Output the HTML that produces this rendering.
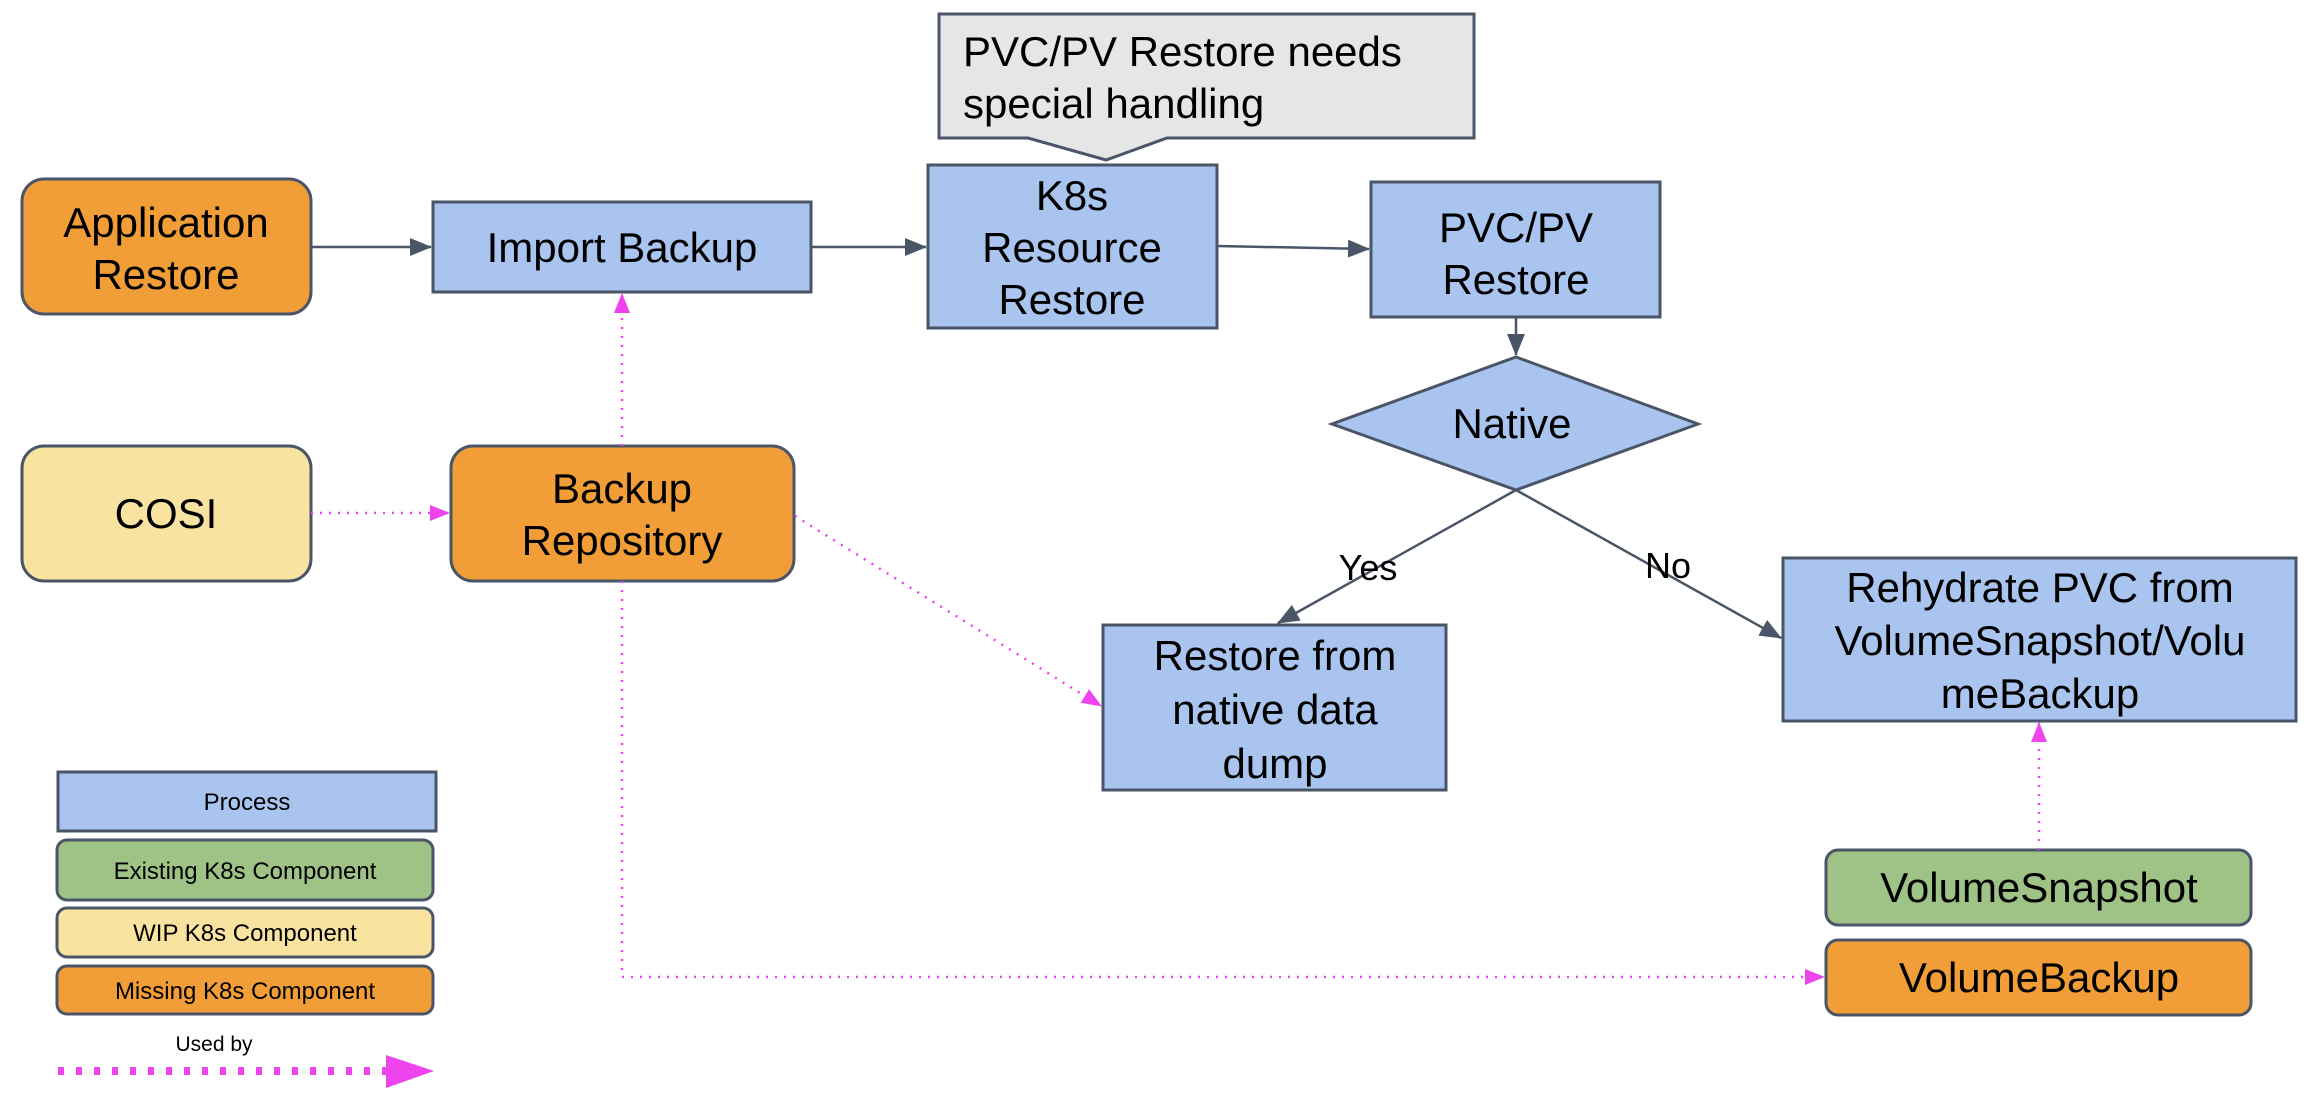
<!DOCTYPE html>
<html><head><meta charset="utf-8"><style>
html,body{margin:0;padding:0;background:#fff;}
svg{display:block;}
text{font-family:"Liberation Sans",Arial,sans-serif;fill:#000;}
</style></head><body>
<svg width="2316" height="1110" viewBox="0 0 2316 1110" xmlns="http://www.w3.org/2000/svg">
<defs>
<marker id="ag" markerWidth="22" markerHeight="18" refX="21" refY="9" orient="auto" markerUnits="userSpaceOnUse" viewBox="0 0 22 18"><path d="M0,0 L22,9 L0,18 z" fill="#4a5568"/></marker>
<marker id="ap" markerWidth="20" markerHeight="16" refX="19" refY="8" orient="auto" markerUnits="userSpaceOnUse" viewBox="0 0 20 16"><path d="M0,0 L20,8 L0,16 z" fill="#ee44ee"/></marker>
</defs>
<g stroke="#4a5568" stroke-width="3">
<path d="M939,14 H1474 V138 H1167 L1106,160 L1028,138 H939 Z" fill="#e6e6e6"/>
<rect x="22" y="179" width="289" height="135" rx="22" fill="#f29e38"/>
<rect x="433" y="202" width="378" height="90" fill="#a9c4ee"/>
<rect x="928" y="165" width="289" height="163" fill="#a9c4ee"/>
<rect x="1371" y="182" width="289" height="135" fill="#a9c4ee"/>
<path d="M1516,357 L1698,424 L1516,490 L1332,424 Z" fill="#a9c4ee"/>
<rect x="1103" y="625" width="343" height="165" fill="#a9c4ee"/>
<rect x="1783" y="558" width="513" height="163" fill="#a9c4ee"/>
<rect x="22" y="446" width="289" height="135" rx="22" fill="#f9e3a0"/>
<rect x="451" y="446" width="343" height="135" rx="22" fill="#f29e38"/>
<rect x="1826" y="850" width="425" height="75" rx="12" fill="#9fc387"/>
<rect x="1826" y="940" width="425" height="75" rx="12" fill="#f29e38"/>
<rect x="58" y="772" width="378" height="59" fill="#a9c4ee"/>
<rect x="57" y="840" width="376" height="60" rx="10" fill="#9fc387"/>
<rect x="57" y="908" width="376" height="49" rx="10" fill="#f9e3a0"/>
<rect x="57" y="966" width="376" height="48" rx="10" fill="#f29e38"/>
</g>
<g stroke="#4a5568" stroke-width="2.5" fill="none">
<line x1="311" y1="247" x2="431" y2="247" marker-end="url(#ag)"/>
<line x1="811" y1="247" x2="926" y2="247" marker-end="url(#ag)"/>
<line x1="1217" y1="246" x2="1369" y2="249" marker-end="url(#ag)"/>
<line x1="1516" y1="317" x2="1516" y2="355" marker-end="url(#ag)"/>
<line x1="1516" y1="490" x2="1278" y2="623" marker-end="url(#ag)"/>
<line x1="1516" y1="490" x2="1781" y2="638" marker-end="url(#ag)"/>
</g>
<g stroke="#ee44ee" stroke-width="2.5" fill="none" stroke-dasharray="2,7">
<line x1="311" y1="513" x2="449" y2="513" marker-end="url(#ap)"/>
<line x1="622" y1="446" x2="622" y2="294" marker-end="url(#ap)"/>
<line x1="795" y1="516" x2="1101" y2="706" marker-end="url(#ap)"/>
<polyline points="622,581 622,977 1824,977" marker-end="url(#ap)"/>
<line x1="2039" y1="850" x2="2039" y2="723" marker-end="url(#ap)"/>
<line x1="58" y1="1071" x2="386" y2="1071" stroke-width="8" stroke-dasharray="6,12"/>
</g>
<path d="M386,1055 L434,1071 L386,1088 Z" fill="#ee44ee"/>
<g font-size="42" text-anchor="middle">
<text x="963" y="66" text-anchor="start">PVC/PV Restore needs</text>
<text x="963" y="118" text-anchor="start">special handling</text>
<text x="166" y="237">Application</text>
<text x="166" y="289">Restore</text>
<text x="622" y="262">Import Backup</text>
<text x="1072" y="210">K8s</text>
<text x="1072" y="262">Resource</text>
<text x="1072" y="314">Restore</text>
<text x="1516" y="242">PVC/PV</text>
<text x="1516" y="294">Restore</text>
<text x="1512" y="438">Native</text>
<text x="166" y="528">COSI</text>
<text x="622" y="503">Backup</text>
<text x="622" y="555">Repository</text>
<text x="1275" y="670">Restore from</text>
<text x="1275" y="724">native data</text>
<text x="1275" y="778">dump</text>
<text x="2040" y="602">Rehydrate PVC from</text>
<text x="2040" y="655">VolumeSnapshot/Volu</text>
<text x="2040" y="708">meBackup</text>
<text x="2039" y="902">VolumeSnapshot</text>
<text x="2039" y="992">VolumeBackup</text>
</g>
<g font-size="36" text-anchor="middle">
<text x="1368" y="580">Yes</text>
<text x="1668" y="578">No</text>
</g>
<g font-size="24" text-anchor="middle">
<text x="247" y="810">Process</text>
<text x="245" y="879">Existing K8s Component</text>
<text x="245" y="941">WIP K8s Component</text>
<text x="245" y="999">Missing K8s Component</text>
<text x="214" y="1051" font-size="21">Used by</text>
</g>
</svg>
</body></html>
